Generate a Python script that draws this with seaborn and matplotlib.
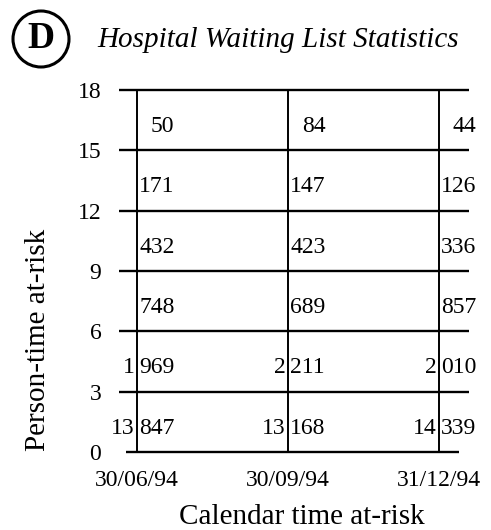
import matplotlib
matplotlib.use("Agg")
import matplotlib.pyplot as plt
import seaborn as sns

# data
dates = ["30/06/94", "30/09/94", "31/12/94"]
age_bands = [0, 3, 6, 9, 12, 15, 18]
# person-time per band (rows from bottom 0-3 up to 15-18), one list per date
counts_0606 = [13847, 1969, 748, 432, 171, 50]
counts_3009 = [13168, 2211, 689, 423, 147, 84]
counts_3112 = [14339, 2010, 857, 336, 126, 44]
counts = [counts_0606, counts_3009, counts_3112]

sns.set_theme(style="white")
plt.rcParams['font.family'] = ['Liberation Serif', 'DejaVu Serif']
plt.rcParams['text.color'] = 'black'
plt.rcParams['axes.labelcolor'] = 'black'

fig = plt.figure(figsize=(4.91, 5.30), dpi=100)
ax = fig.add_axes([118 / 491, 78 / 530, 354 / 491, 362 / 530])

xpos = list(range(len(dates)))
ax.set_xlim(-0.126, 2.218)
ax.set_ylim(0, 18)

# grid of the table
ax.hlines(age_bands[1:], -0.12, 2.2, color="black", lw=1.7, clip_on=False)
ax.hlines(age_bands[0], -0.07, 2.13, color="black", lw=1.7, clip_on=False)
ax.vlines(xpos, age_bands[0], age_bands[-1], color="black", lw=1.4, clip_on=False)

# cell values
fs = 17
for i, col in enumerate(counts):
    for j, v in enumerate(col):
        y = (age_bands[j] + age_bands[j + 1]) / 2 - 0.32
        if v >= 1000:
            ax.text(i - 0.015, y, str(v // 1000), ha="right", va="center", fontsize=fs)
            ax.text(i + 0.015, y, f"{v % 1000:03d}", ha="left", va="center", fontsize=fs)
        elif j == len(col) - 1:
            ax.text(i + 0.09, y, str(v), ha="left", va="center", fontsize=fs)
        else:
            ax.text(i + 0.015, y, str(v), ha="left", va="center", fontsize=fs)

sns.despine(ax=ax, left=True, bottom=True)
ax.set_xticks(xpos)
ax.set_xticklabels(dates)
ax.set_yticks(age_bands)
ax.tick_params(axis="both", length=0, labelsize=17, colors="black")
ax.tick_params(axis="y", pad=12)
ax.tick_params(axis="x", pad=13)

ax.set_xlabel("Calendar time at-risk", fontsize=21)
ax.xaxis.set_label_coords(0.52, -0.145)
ax.set_ylabel("Person-time at-risk", fontsize=21)
ax.yaxis.set_label_coords(-0.19, 0.31)

fig.text(97 / 491, 1 - 40 / 530, "Hospital Waiting List Statistics",
         fontsize=21, style="italic", ha="left", va="center")
fig.text(41 / 491, 1 - 39 / 530, "D", fontsize=27, fontweight="bold",
         ha="center", va="center",
         bbox=dict(boxstyle="circle,pad=0.28", fc="none", ec="black", lw=2.2))

fig.savefig("out.png", dpi=100)
